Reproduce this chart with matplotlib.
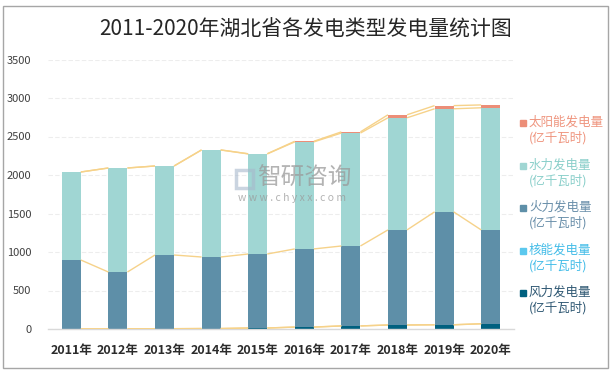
import numpy as np
import matplotlib
matplotlib.use("Agg")
import matplotlib.pyplot as plt
from matplotlib.patches import Rectangle

plt.rcParams['font.family'] = ['Noto Sans CJK SC', 'DejaVu Sans']

years = ['2011年', '2012年', '2013年', '2014年', '2015年',
         '2016年', '2017年', '2018年', '2019年', '2020年']
wind = [1, 2, 4, 6, 13, 25, 40, 52, 55, 68]
nuclear = [0, 0, 0, 0, 0, 0, 0, 0, 0, 0]
thermal = [895, 738, 957, 929, 961, 1015, 1038, 1235, 1466, 1219]
hydro = [1143, 1351, 1156, 1390, 1300, 1390, 1467, 1456, 1339, 1586]
solar = [0, 0, 0, 1, 2, 8, 15, 39, 41, 37]

names = ['风力发电量\n(亿千瓦时)', '核能发电量\n(亿千瓦时)', '火力发电量\n(亿千瓦时)',
         '水力发电量\n(亿千瓦时)', '太阳能发电量\n(亿千瓦时)']
colors = ['#00607F', '#5BC8EE', '#5E8FA8', '#A0D6D3', '#EC8E78']
text_colors = ['#2F5873', '#45BDE8', '#6A8FAA', '#8ACFCA', '#EF957F']
series = [wind, nuclear, thermal, hydro, solar]

W, H = 612, 375
fig = plt.figure(figsize=(W / 100, H / 100), dpi=100)
ax = fig.add_axes([48 / W, 1 - 329 / H, 466 / W, 269.5 / H])

x = np.arange(len(years))
bw = 0.41
bottom = np.zeros(len(years))
for vals, c in zip(series, colors):
    vals = np.array(vals, dtype=float)
    ax.bar(x, vals, bw, bottom=bottom, color=c, zorder=2)
    top = bottom + vals
    # series lines between neighbouring bars
    for i in range(len(x) - 1):
        ax.plot([x[i] + bw / 2, x[i + 1] - bw / 2], [top[i], top[i + 1]],
                color='#F6D28A', lw=1, zorder=3, solid_capstyle='butt')
    bottom = top

ax.set_xlim(-0.5, len(years) - 0.5)
ax.set_ylim(0, 3500)
ax.set_yticks(range(0, 3501, 500))
ax.set_xticks(x)
ax.set_xticklabels(years, fontsize=9, fontweight='bold', color='#2B2B2B')
ax.tick_params(axis='x', length=0, pad=11)
ax.tick_params(axis='y', length=0, pad=12, labelsize=8, labelcolor='#404040')
ax.grid(axis='y', color='#EDEDED', lw=0.8, ls=(0, (4, 2)), zorder=0)
for s in ['left', 'right', 'top']:
    ax.spines[s].set_visible(False)
ax.spines['bottom'].set_color('#D9D9D9')
ax.spines['bottom'].set_linewidth(1)

fig.text(0.5, 1 - 30 / H, '2011-2020年湖北省各发电类型发电量统计图',
         ha='center', va='center', fontsize=15, fontweight='medium', color='#262626')

# legend, top to bottom: solar, hydro, thermal, nuclear, wind
for k, idx in enumerate([4, 3, 2, 1, 0]):
    yc = 123 + k * 42.5
    fig.patches.append(Rectangle((520 / W, 1 - (yc + 3) / H), 6 / W, 6 / H,
                                 transform=fig.transFigure, color=colors[idx]))
    fig.text(529 / W, 1 - (yc - 7) / H, names[idx], ha='left', va='top',
             fontsize=9, color=text_colors[idx], linespacing=1.2)

# watermark
fig.text(304 / W, 1 - 178 / H, '智研咨询', ha='center', va='center',
         fontsize=17, color='#9A9A9A', alpha=0.75)
fig.text(292 / W, 1 - 198 / H, 'w w w . c h y x x . c o m', ha='center', va='center',
         fontsize=7.5, color='#9A9A9A', alpha=0.75)
fig.patches.append(Rectangle((236 / W, 1 - 188 / H), 17 / W, 18 / H,
                             transform=fig.transFigure, fill=False,
                             edgecolor='#A8B8CC', lw=2.5, alpha=0.6))

fig.patches.append(Rectangle((3 / W, 1 - 368 / H), 605 / W, 362 / H,
                             transform=fig.transFigure, fill=False,
                             edgecolor='#A6A6A6', lw=1))

fig.savefig('out.png', dpi=100)
